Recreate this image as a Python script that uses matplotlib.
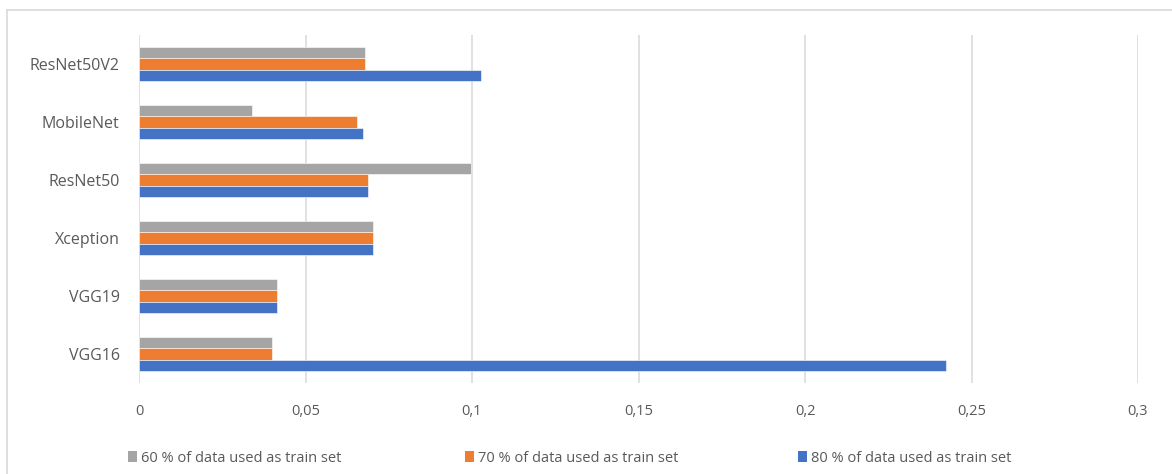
import matplotlib
matplotlib.use("Agg")
import matplotlib.pyplot as plt
from matplotlib.lines import Line2D
from matplotlib.patches import Patch
import numpy as np

models = ["VGG16", "VGG19", "Xception", "ResNet50", "MobileNet", "ResNet50V2"]
split_60 = [0.040, 0.0415, 0.0704, 0.0998, 0.034, 0.068]
split_70 = [0.040, 0.0415, 0.0704, 0.0689, 0.0655, 0.068]
split_80 = [0.2423, 0.0415, 0.0704, 0.0689, 0.0674, 0.1028]
series_labels = ["60 % of data used as train set",
                 "70 % of data used as train set",
                 "80 % of data used as train set"]
colors = ["#A5A5A5", "#ED7D31", "#4472C4"]
xticks = [0, 0.05, 0.1, 0.15, 0.2, 0.25, 0.3]
xtick_labels = ["0", "0,05", "0,1", "0,15", "0,2", "0,25", "0,3"]

plt.rcParams["font.family"] = ["Open Sans", "DejaVu Sans"]
text_color = "#595959"

W, H = 1172, 474
fig = plt.figure(figsize=(W / 100, H / 100), dpi=100)
ax = fig.add_axes([139 / W, 1 - 383 / H, (1138 - 139) / W, (383 - 35) / H])

y = np.arange(len(models))
h = 0.2
for vals, off, c in zip([split_60, split_70, split_80], [h, 0, -h], colors):
    ax.barh(y + off, vals, height=h, color=c, edgecolor="#ffffff",
            linewidth=0.4, zorder=3)

ax.set_xlim(0, 0.3)
ax.set_ylim(-0.5, len(models) - 0.5)
ax.set_xticks(xticks)
ax.set_xticklabels(xtick_labels)
ax.set_yticks(y)
ax.set_yticklabels(models)
ax.tick_params(axis="x", length=0, colors=text_color, labelsize=10.5, pad=15)
ax.tick_params(axis="y", length=0, colors=text_color, labelsize=11.5, pad=14)
ax.grid(axis="x", color="#D9D9D9", linewidth=1.1, zorder=0)
for s in ax.spines.values():
    s.set_visible(False)

# outer chart frame (top and left edges)
fig.add_artist(Line2D([7 / W, 1.0], [1 - 10 / H, 1 - 10 / H],
                      transform=fig.transFigure, color="#D9D9D9", lw=1.2))
fig.add_artist(Line2D([7 / W, 7 / W], [1 - 10 / H, 0.0],
                      transform=fig.transFigure, color="#D9D9D9", lw=1.2))

handles = [Patch(facecolor=c, edgecolor="none") for c in colors]
leg_x = [128, 465, 798]
for hd, lab, lx in zip(handles, series_labels, leg_x):
    fig.legend([hd], [lab], loc="center left",
               bbox_to_anchor=(lx / W, 1 - 458 / H), frameon=False,
               handlelength=0.65, handleheight=0.85, handletextpad=0.25,
               borderpad=0, borderaxespad=0, fontsize=10.5,
               labelcolor=text_color)

fig.savefig("out.png", dpi=100, facecolor="white")
